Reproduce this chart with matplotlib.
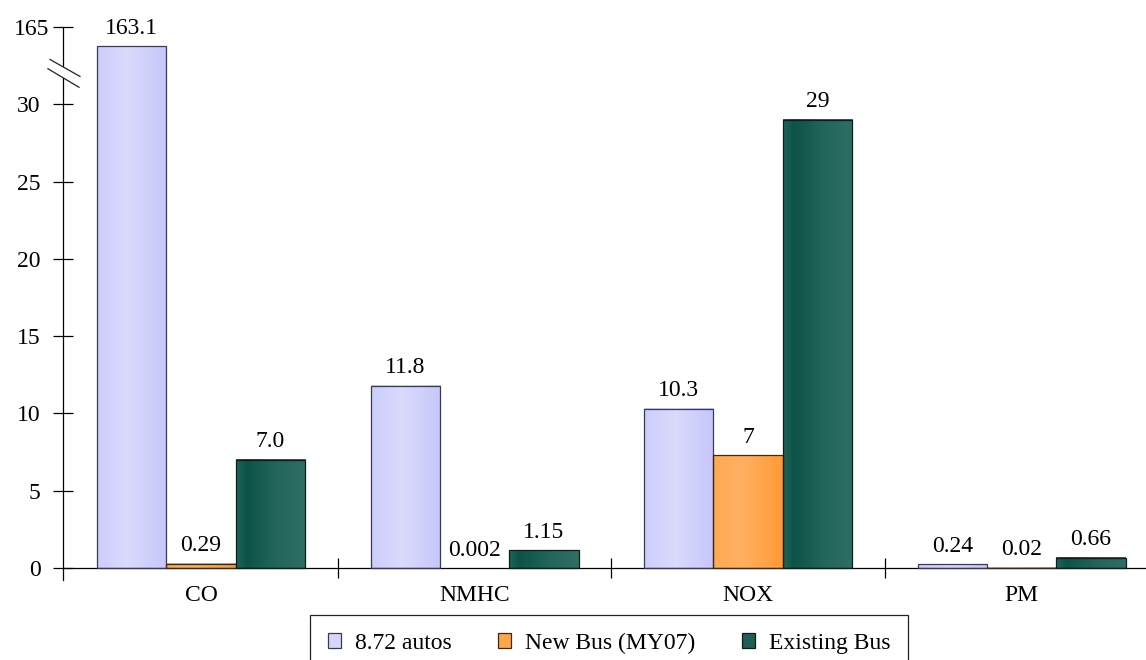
import numpy as np
import matplotlib
matplotlib.use("Agg")
import matplotlib.pyplot as plt
from matplotlib.colors import LinearSegmentedColormap
from matplotlib.patches import Patch, Polygon
from matplotlib.lines import Line2D
from matplotlib.transforms import blended_transform_factory, ScaledTranslation

plt.rcParams['font.family'] = ['Liberation Serif', 'DejaVu Serif']
plt.rcParams['font.size'] = 17

# ---- data ----
categories = ['CO', 'NMHC', 'NOX', 'PM']
series_names = ['8.72 autos', 'New Bus (MY07)', 'Existing Bus']
autos = [163.1, 11.8, 10.3, 0.24]
new_bus = [0.29, 0.002, 7.3, 0.02]
existing_bus = [7.0, 1.15, 29.0, 0.66]
autos_labels = ['163.1', '11.8', '10.3', '0.24']
new_bus_labels = ['0.29', '0.002', '7', '0.02']
existing_bus_labels = ['7.0', '1.15', '29', '0.66']
ytick_values = [0, 5, 10, 15, 20, 25, 30, 35]
ytick_labels = ['0', '5', '10', '15', '20', '25', '30', '165']

# ---- styling ----
BREAK = 30          # values above this are drawn clipped (broken axis)
CLIP_HEIGHT = 33.75
bar_w = 0.2535
stops = [
    [(0.0, '#cdcdfc'), (0.45, '#dadafd'), (1.0, '#c6c6fb')],
    [(0.0, '#ffa952'), (0.4, '#ffb062'), (1.0, '#ff9a36')],
    [(0.0, '#22655b'), (0.15, '#0d5347'), (0.6, '#24665c'), (1.0, '#2f6e65')],
]
edge_colors = ['#3a3a55', '#3d2a10', '#0b1f1b']
legend_faces = ['#d6d6fc', '#ffa649', '#1f5f55']

W, H = 1146, 660
fig = plt.figure(figsize=(W / 100, H / 100), dpi=100)
ax_left = 63 / W
ax = fig.add_axes([ax_left, (H - 580.4) / H, 1 - ax_left, 553.4 / H])

x = np.arange(len(categories))
all_vals = [autos, new_bus, existing_bus]
all_labels = [autos_labels, new_bus_labels, existing_bus_labels]
grad = np.linspace(0, 1, 256).reshape(1, -1)

for i, (vals, labs) in enumerate(zip(all_vals, all_labels)):
    disp = [v if v <= BREAK else CLIP_HEIGHT for v in vals]
    pos = x + (i - 1) * bar_w
    bars = ax.bar(pos, disp, width=bar_w, facecolor='none',
                  edgecolor=edge_colors[i], linewidth=0.9, zorder=3)
    cmap = LinearSegmentedColormap.from_list(f'g{i}', stops[i])
    for rect, lab in zip(bars, labs):
        bx, by = rect.get_x(), rect.get_y()
        bw, bh = rect.get_width(), rect.get_height()
        if bh < 0.01:
            rect.set_visible(False)
        else:
            ax.imshow(grad, extent=[bx, bx + bw, by, by + bh], aspect='auto',
                      cmap=cmap, interpolation='bilinear', zorder=2)
        ax.annotate(lab, (bx + bw / 2, by + bh), xytext=(0, 9),
                    textcoords='offset points', ha='center', va='baseline')

ax.set_xlim(-0.505, -0.505 + 1083 / 273.5)
ax.set_ylim(-0.8, 35)
ax.set_aspect('auto')

for s in ['top', 'right']:
    ax.spines[s].set_visible(False)
ax.spines['bottom'].set_position(('data', 0))
ax.spines['left'].set_linewidth(0.9)
ax.spines['bottom'].set_linewidth(0.9)

ax.set_yticks(ytick_values)
ax.set_yticklabels(ytick_labels)
ax.tick_params(axis='y', direction='inout', length=14, width=0.9, pad=9)
ax.set_xticks(x)
ax.set_xticklabels(categories)
ax.tick_params(axis='x', which='major', length=0, pad=12)
ax.set_xticks(x[:-1] + 0.5, minor=True)
ax.tick_params(axis='x', which='minor', direction='inout', length=14, width=0.9)

# the top (break) label sits a little closer to the axis
top_lab = ax.get_yticklabels()[-1]
top_lab.set_transform(top_lab.get_transform() +
                      ScaledTranslation(6 / 72, 0, fig.dpi_scale_trans))

# axis break marks
tr = blended_transform_factory(ax.transAxes, ax.transData)
gap = Polygon([(-0.012, 32.9), (0.0157, 31.8), (0.0148, 31.1), (-0.0139, 32.3)],
              closed=True, facecolor='white', edgecolor='none', transform=tr,
              clip_on=False, zorder=5)
ax.add_artist(gap)
for (xa, ya, xb, yb) in [(-0.012, 32.9, 0.0157, 31.8), (-0.0139, 32.3, 0.0148, 31.1)]:
    ax.add_line(Line2D([xa, xb], [ya, yb], transform=tr, color='#222222',
                       lw=0.9, clip_on=False, zorder=6))

handles = [Patch(facecolor=legend_faces[i], edgecolor=edge_colors[i], linewidth=0.9)
           for i in range(3)]
leg_top = (H - 615) / H
leg = fig.legend(handles, series_names, loc='upper left',
                 bbox_to_anchor=(310 / W, leg_top - 0.05, 598 / W, 0.05),
                 mode='expand', ncol=3, frameon=True, fancybox=False,
                 edgecolor='#222222', framealpha=1, borderaxespad=0,
                 handlelength=0.55, handleheight=0.55, handletextpad=0.6,
                 borderpad=0.75)
leg.get_frame().set_linewidth(0.9)

fig.savefig('out.png', dpi=100)
